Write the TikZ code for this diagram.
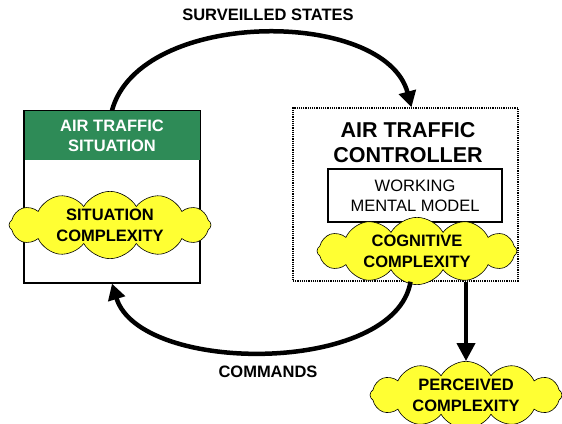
\documentclass[tikz,border=0pt]{standalone}
\usepackage{fontspec}
\setmainfont{Liberation Sans}
\usetikzlibrary{shapes.symbols,arrows.meta}
\definecolor{hdrgreen}{RGB}{46,139,87}
\definecolor{cloudyellow}{RGB}{255,255,51}
\begin{document}
\begin{tikzpicture}[x=1pt,y=-1pt,
  puff/.style={cloud, cloud puffs=12, cloud puff arc=120, cloud ignores aspect, draw, line width=0.6pt, fill=cloudyellow, align=center, font=\bfseries\fontsize{16.5}{21}\selectfont, inner sep=0pt},
  flow/.style={line width=4.5pt, -{Triangle[length=16pt,width=17pt]}}]
\useasboundingbox (0,0) rectangle (562,423);
\node[draw, line width=1.2pt, minimum width=176, minimum height=172] (sitbox) at (112,197){};
\node[fill=hdrgreen, minimum width=175, minimum height=49, anchor=north, text=white, align=center, font=\bfseries\fontsize{16.5}{20}\selectfont, inner sep=0pt] (sithdr) at ([yshift=-0.6pt]sitbox.north){AIR TRAFFIC\\SITUATION};
\node[puff, minimum width=202, minimum height=56] (sitcx) at (110,225){SITUATION\\COMPLEXITY};
\node[draw, line width=1.5pt, dash pattern=on 1.2pt off 1pt, minimum width=225, minimum height=173] (ctrl) at (405.5,194.5){};
\node[align=center, font=\bfseries\fontsize{21.5}{25}\selectfont, inner sep=0pt] (ctrltitle) at (408,143){AIR TRAFFIC\\CONTROLLER};
\node[draw, line width=1.2pt, minimum width=174, minimum height=53, align=center, font=\fontsize{16.5}{20}\selectfont, inner sep=0pt] (wmm) at (415,195.5){WORKING\\MENTAL MODEL};
\node[puff, minimum width=200, minimum height=54] (cogcx) at (417,251){COGNITIVE\\COMPLEXITY};
\node[puff, minimum width=192, minimum height=54] (perccx) at (466,395){PERCEIVED\\COMPLEXITY};
\node[font=\bfseries\fontsize{16.5}{18}\selectfont] (survlbl) at (268,15){SURVEILLED STATES};
\node[font=\bfseries\fontsize{16.5}{18}\selectfont] (cmdlbl) at (268,372){COMMANDS};
\draw[flow] (sitbox.north) .. controls (140,8) and (385,8) .. ([xshift=6pt]ctrl.north);
\draw[flow] ([xshift=5pt]ctrl.south) .. controls (395,375) and (140,375) .. (sitbox.south);
\draw[line width=4pt, -{Triangle[length=18pt,width=18pt]}] (ctrl.south -| perccx.north) -- (perccx.north);
\end{tikzpicture}
\end{document}
